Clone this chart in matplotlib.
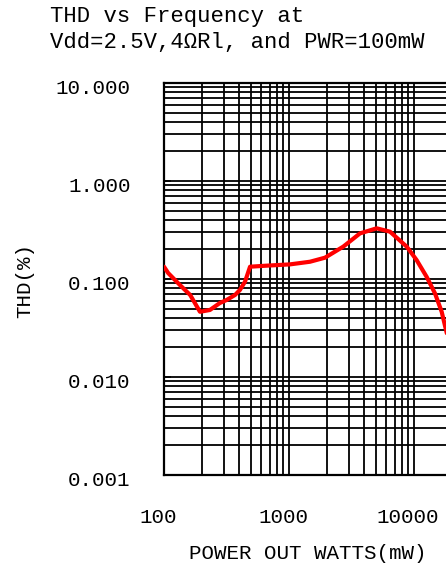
import matplotlib
matplotlib.use("Agg")
import matplotlib.pyplot as plt
from matplotlib.ticker import LogLocator, NullFormatter, FixedLocator, FixedFormatter
from matplotlib.transforms import ScaledTranslation

# ---- data ----
freq = [100, 108, 134, 162, 194, 233, 280, 317, 370, 405, 445, 488, 663,
        1019, 1472, 1941, 2718, 3698, 5030, 6427, 8745, 10500, 12640,
        14720, 16660, 18300]
thd = [0.1335, 0.115, 0.0869, 0.0687, 0.0463, 0.0483, 0.0569, 0.0611,
       0.0687, 0.0773, 0.094, 0.1335, 0.1368, 0.141, 0.150, 0.165, 0.214,
       0.292, 0.329, 0.304, 0.214, 0.156, 0.105, 0.0714, 0.0463, 0.028]
x_ticks = [100, 1000, 10000]
x_tick_labels = ["100", "1000", "10000"]
y_ticks = [0.001, 0.01, 0.1, 1, 10]
y_tick_labels = ["0.001", "0.010", "0.100", "1.000", "10.000"]
title = "THD vs Frequency at\nVdd=2.5V,4\u03a9Rl, and PWR=100mW"
xlabel = "POWER OUT WATTS(mW)"
ylabel = "THD(%)"

FONT = ["Liberation Mono", "DejaVu Sans Mono"]
plt.rcParams["font.family"] = FONT

W, H = 446, 568
fig = plt.figure(figsize=(W / 100, H / 100), dpi=100)
left, right, top, bottom = 164, 451.6, 83, 475
ax = fig.add_axes([left / W, 1 - bottom / H, (right - left) / W, (bottom - top) / H])

ax.set_xscale("log")
ax.set_yscale("log")
ax.set_xlim(100, 20000)
ax.set_ylim(0.001, 10)

ax.xaxis.set_major_locator(FixedLocator(x_ticks))
ax.xaxis.set_major_formatter(FixedFormatter(x_tick_labels))
ax.xaxis.set_minor_locator(LogLocator(base=10, subs=range(2, 10), numticks=20))
ax.xaxis.set_minor_formatter(NullFormatter())
ax.yaxis.set_major_locator(FixedLocator(y_ticks))
ax.yaxis.set_major_formatter(FixedFormatter(y_tick_labels))
ax.yaxis.set_minor_locator(LogLocator(base=10, subs=range(2, 10), numticks=20))
ax.yaxis.set_minor_formatter(NullFormatter())

ax.grid(True, which="both", color="black", linewidth=1.3)
ax.set_axisbelow(True)

ax.plot(freq, thd, color="#ff0000", linewidth=3.0, solid_capstyle="round", zorder=3)

for s in ["left", "bottom", "top"]:
    ax.spines[s].set_color("black")
    ax.spines[s].set_linewidth(1.6)
ax.spines["right"].set_visible(False)

ax.tick_params(axis="x", which="both", length=0, pad=24, labelsize=15)
ax.tick_params(axis="y", which="major", direction="in", length=5, width=1.2,
               pad=24, labelsize=15)
ax.tick_params(axis="y", which="minor", length=0)

for lab in ax.get_yticklabels():
    lab.set_transform(lab.get_transform() + ScaledTranslation(0, -4 / 100, fig.dpi_scale_trans))
for lab in ax.get_xticklabels():
    lab.set_transform(lab.get_transform() + ScaledTranslation(-6 / 100, 0, fig.dpi_scale_trans))

ax.set_xlabel(xlabel, fontsize=15, labelpad=12)
fig.text(25 / W, 1 - 280 / H, ylabel, rotation=90, ha="center", va="center", fontsize=15)

fig.text(50 / W, 1 - 6 / H, title, ha="left", va="top", fontsize=16, linespacing=1.3)

fig.savefig("out.png", dpi=100)
